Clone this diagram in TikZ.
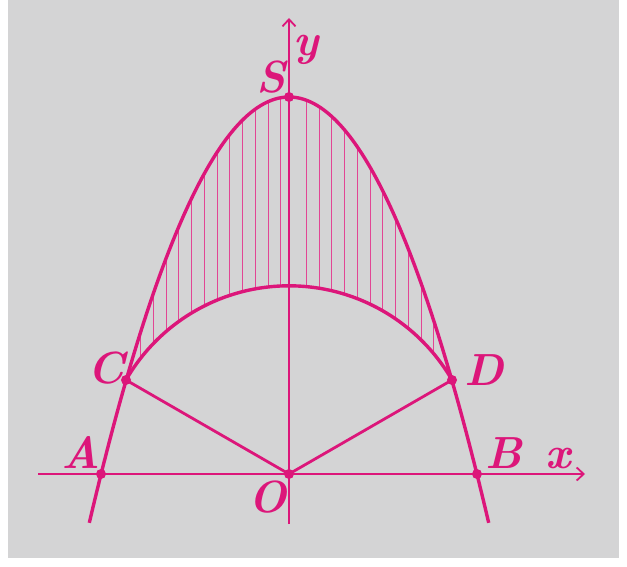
\documentclass[tikz,border=0pt]{standalone}
\usetikzlibrary{arrows.meta}
\definecolor{mag}{RGB}{220,22,122}
\definecolor{hatchc}{RGB}{226,70,148}
\definecolor{wall}{RGB}{212,212,213}
\begin{document}
\begin{tikzpicture}[x=1pt,y=-1pt,
  curve/.style={mag,line width=3.4pt},
  axis/.style={mag,line width=1.8pt,-{Straight Barb[length=7pt,width=13pt,line width=1.8pt]}},
  seg/.style={mag,line width=2.8pt},
  hatchline/.style={hatchc,line width=1pt},
  pt/.style={circle,fill=mag,inner sep=0pt,minimum size=10pt},
  lbl/.style={mag,anchor=base,inner sep=0pt,font=\fontsize{45}{45}\selectfont\bfseries\itshape}]
\useasboundingbox (0,0) rectangle (627,567);
\fill[white] (0,0) rectangle (627,567);
\fill[wall] (8,0) rectangle (619,558);
% hatching
\foreach \n in {-12,...,-1,1,2,...,12}{
  \pgfmathsetmacro\dx{4.5+12.75*\n}
  \pgfmathsetmacro\yc{474-188.2*sqrt(1-(\dx/188.2)^2)}
  \pgfmathsetmacro\yp{97+1.0678*(\dx/10)^2}
  \draw[hatchline] ({289+\dx},\yc) -- ({289+\dx},\yp);
}
% curves
\draw[curve] plot[domain=-199.7:199.7,samples=120,smooth] ({289+\x},{97+1.0678*(\x/10)^2});
\draw[curve] plot[domain=150:30,samples=80,smooth] ({289+188.2*cos(\x)},{474-188.2*sin(\x)});
% points
\node[pt] (O) at (289,474) {};
\node[pt] (S) at (289,97) {};
\node[pt] (A) at (101,474) {};
\node[pt] (B) at (477,474) {};
\node[pt] (C) at (126,380) {};
\node[pt] (D) at (452,380) {};
\coordinate (xl) at (38,474);
\coordinate (xr) at (585,474);
\coordinate (yb) at (289,524);
\coordinate (yt) at (289,18);
% axes
\draw[axis] (xl) -- (xr);
\draw[axis] (yb) -- (yt);
% segments
\draw[seg] (O.center) -- (C.center);
\draw[seg] (O.center) -- (D.center);
% labels
\node[lbl] (lS) at (271,93) {S};
\node[lbl] (ly) at (306,56) {y};
\node[lbl] (lC) at (106,383) {C};
\node[lbl] (lD) at (484,385) {D};
\node[lbl] (lA) at (81,468) {A};
\node[lbl] (lB) at (504,468) {B};
\node[lbl] (lx) at (558,468) {x};
\node[lbl] (lO) at (268,512) {O};
\end{tikzpicture}
\end{document}
